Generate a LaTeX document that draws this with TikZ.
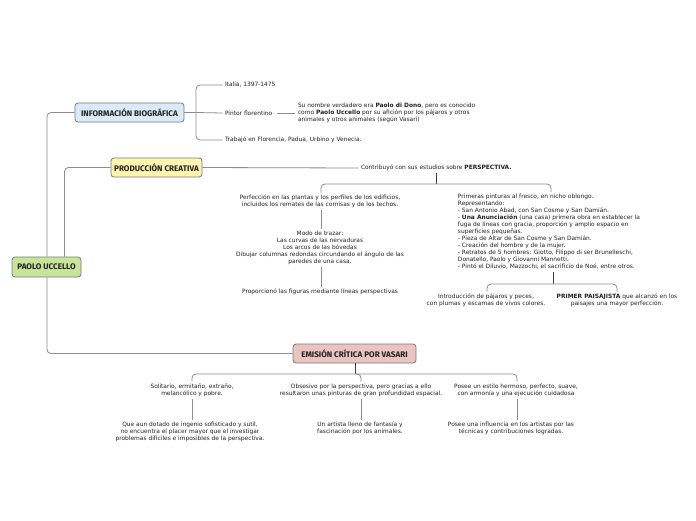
\documentclass[tikz,border=0pt]{standalone}
\usepackage{fontspec}
\setmainfont{DejaVu Sans}
\newfontfamily\titlefont{Fira Sans}
\definecolor{linegray}{HTML}{8C8C8C}
\definecolor{darkline}{HTML}{3A3A3A}
\definecolor{boxborder}{HTML}{7A7A7A}
\definecolor{pugreen}{HTML}{C6E49A}
\definecolor{ibblue}{HTML}{DAEAF6}
\definecolor{pcyellow}{HTML}{FFF5B1}
\definecolor{ecpink}{HTML}{EAC4C1}
\definecolor{txt}{HTML}{222222}
\tikzset{
  topic/.style={draw=boxborder, line width=0.8pt, rounded corners=3pt, inner sep=0pt,
    minimum height=19pt, text=txt, font=\titlefont\bfseries\fontsize{8.1}{9}\selectfont},
  leaf/.style={inner sep=0pt, outer sep=2.5pt, align=center, text=txt,
    font=\fontsize{5.9}{7}\selectfont},
  leafl/.style={leaf, align=left},
  conn/.style={draw=linegray, line width=0.8pt, rounded corners=4pt},
  dconn/.style={draw=darkline, line width=0.9pt, rounded corners=4pt}
}
\begin{document}
\begin{tikzpicture}[x=1pt,y=-1pt]
\useasboundingbox[fill=white] (0,0) rectangle (696,520);

% main topics
\node[topic, fill=pugreen, minimum width=69pt, minimum height=20pt] (pu) at (46.5,267) {PAOLO UCCELLO};
\node[topic, fill=ibblue, minimum width=109pt] (info) at (129.5,112.5) {INFORMACIÓN BIOGRÁFICA};
\node[topic, fill=pcyellow, minimum width=91pt] (prod) at (156.5,167.5) {PRODUCCIÓN CREATIVA};
\node[topic, fill=ecpink, minimum width=123pt] (emi) at (354.5,353.5) {EMISIÓN CRÍTICA POR VASARI};

% main connectors
\draw[conn] ([xshift=0.5pt]pu.north) |- (info.west);
\draw[conn] ([xshift=18pt]pu.north) |- (prod.west);
\draw[conn] ([xshift=0.5pt]pu.south) |- (emi.west);

% Información biográfica
\node[leafl, anchor=west] (t1) at (222.5,85) {Italia, 1397-1475};
\node[leafl, anchor=west] (t2) at (222.5,113) {Pintor florentino};
\node[leafl, anchor=west] (t3) at (222.5,140) {Trabajó en Florencia, Padua, Urbino y Venecia.};
\node[leafl, anchor=west] (su) at (295.5,113) {Su nombre verdadero era \textbf{Paolo di Dono}, pero es conocido\\como \textbf{Paolo Uccello} por su afición por los pájaros y otros\\animales y otros animales (según Vasari)};
\coordinate (ib) at (196,112.5);
\draw[conn] (info.east) -- (ib);
\draw[conn] (ib) |- (t1.west);
\draw[conn] (ib) -- (t2.west);
\draw[conn] (ib) |- (t3.west);
\draw[conn] ([xshift=2pt]t2.east) -- ([xshift=-1pt]su.west);

% Producción creativa
\node[leafl, anchor=west] (contrib) at (358.5,168) {Contribuyó con sus estudios sobre \textbf{PERSPECTIVA.}};
\draw[conn] (prod.east) -- (contrib.west);
\coordinate (cb) at (436.5,184);
\draw[dconn] (contrib.south -| cb) -- (cb);
\node[leaf] (perf) at (320,201.5) {Perfección en las plantas y los perfiles de los edificios,\\incluidos los remates de las cornisas y de los techos.};
\node[leafl] (prim) at (549,232) {Primeras pinturas al fresco, en nicho oblongo.\\Representando:\\- San Antonio Abad, con San Cosme y San Damián.\\- \textbf{Una Anunciación} (una casa) primera obra en establecer la\\fuga de líneas con gracia, proporción y amplio espacio en\\superficies pequeñas.\\- Pieza de Altar de San Cosme y San Damián.\\- Creación del hombre y de la mujer.\\- Retratos de 5 hombres: Giotto, Filippo di ser Brunelleschi,\\Donatello, Paolo y Giovanni Mannetti.\\- Pintó el Diluvio, Mazzochi, el sacrificio de Noé, entre otros.};
\draw[conn] (cb) -| ([xshift=1pt]perf.north);
\draw[conn] (cb) -| ([xshift=2pt]prim.north);
\node[leaf] (modo) at (320,248) {Modo de trazar:\\Las curvas de las nervaduras\\Los arcos de las bóvedas\\Dibujar columnas redondas circundando el ángulo de las\\paredes de una casa.};
\node[leaf] (prop) at (320,292) {Proporcionó las figuras mediante líneas perspectivas};
\draw[conn] ([xshift=1pt]perf.south) -- ([xshift=1pt]modo.north);
\draw[conn] ([xshift=1pt]modo.south) -- ([xshift=1pt]prop.north);
\coordinate (pb) at (553,284);
\draw[dconn] (prim.south -| pb) -- (pb);
\node[leaf] (intro) at (486,300.5) {Introducción de pájaros y peces,\\con plumas y escamas de vivos colores.};
\node[leaf] (pais) at (617,300.5) {\textbf{PRIMER PAISAJISTA} que alcanzó en los\\paisajes una mayor perfección.};
\draw[conn] (pb) -| ([xshift=1pt]intro.north);
\draw[conn] (pb) -| (pais.north);

% Emisión crítica por Vasari
\coordinate (eb) at (355.5,374);
\draw[dconn] (emi.south -| eb) -- (eb);
\node[leaf] (sol) at (192,390.5) {Solitario, ermitaño, extraño,\\melancólico y pobre.};
\node[leaf] (obs) at (361,390.5) {Obsesivo por la perspectiva, pero gracias a ello\\resultaron unas pinturas de gran profundidad espacial.};
\node[leaf] (pos) at (516,390.5) {Posee un estilo hermoso, perfecto, suave,\\con armonía y una ejecución cuidadosa};
\draw[conn] (eb) -| (sol.north);
\draw[conn] (eb) -| (obs.north);
\draw[conn] (eb) -| ([xshift=1pt]pos.north);
\node[leaf] (que) at (190,432) {Que aun dotado de ingenio sofisticado y sutil,\\no encuentra el placer mayor que el investigar\\problemas difíciles e imposibles de la perspectiva.};
\node[leaf] (una) at (360,428.5) {Un artista lleno de fantasía y\\fascinación por los animales.};
\node[leaf] (infl) at (511,428.5) {Posee una influencia en los artistas por las\\técnicas y contribuciones logradas.};
\draw[conn] (sol.south) -- (sol.south |- que.north);
\draw[conn] (obs.south) -- (obs.south |- una.north);
\draw[conn] ([xshift=1pt]pos.south) -- ([xshift=1pt]pos.south |- infl.north);
\end{tikzpicture}
\end{document}
